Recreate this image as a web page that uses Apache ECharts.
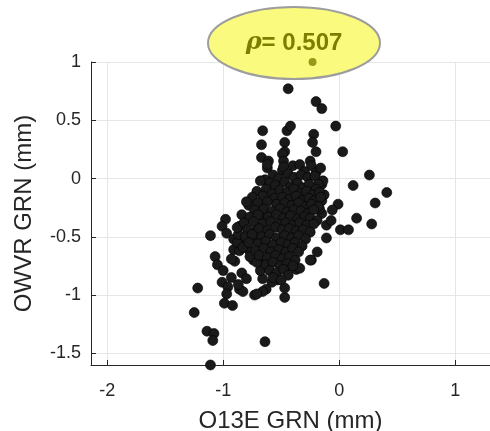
<!DOCTYPE html>
<html>
<head>
<meta charset="utf-8">
<script src="https://cdn.jsdelivr.net/npm/echarts@6/dist/echarts.min.js"></script>
<style>
html, body { margin: 0; padding: 0; background: #fff; }
#main { width: 490px; height: 431px; }
</style>
</head>
<body>
<div id="main"></div>
<script>
// points, [O13E, OWVR] in mm
var upperTail = [
    [-0.44,0.77],[-0.20,0.66],[-0.15,0.60],[-0.03,0.45],[-0.66,0.41],[-0.45,0.41],
    [-0.42,0.45],[-0.22,0.38],[-0.67,0.29],[-0.47,0.31],[-0.23,0.31],[-0.20,0.23],
    [0.03,0.23],[-0.47,0.23],[-0.49,0.21],[-0.67,0.18],[-0.61,0.15],[-0.48,0.15],
    [-0.25,0.15],[-0.62,0.09],[-0.49,0.07],[-0.40,0.11],[-0.34,0.12],[-0.24,0.11],
    [-0.20,0.05],[-0.16,0.09],[-0.30,0.06],[-0.48,0.10],[-0.62,0.12]
];
var rightSpread = [
    [0.26,0.03],[0.12,-0.06],[0.41,-0.12],[0.31,-0.21],[0.15,-0.34],[0.28,-0.39],
    [-0.01,-0.22],[-0.06,-0.27],[-0.15,-0.30],[-0.11,-0.40],[-0.07,-0.36],[0.01,-0.44],
    [0.08,-0.44],[-0.11,-0.51],[-0.19,-0.63],[-0.24,-0.70],[-0.13,-0.90],[-0.15,-0.05],
    [-0.14,-0.02],[-0.15,-0.19],[-0.13,-0.14],[-0.17,-0.26]
];
var lowerTail = [
    [-0.98,-0.35],[-1.01,-0.41],[-1.11,-0.49],[-1.07,-0.67],[-1.05,-0.74],[-1.00,-0.79],
    [-1.22,-0.94],[-1.01,-0.89],[-0.93,-0.85],[-0.84,-0.81],[-0.96,-0.93],[-0.97,-0.99],
    [-0.99,-1.07],[-0.92,-1.09],[-1.25,-1.15],[-1.14,-1.31],[-1.08,-1.33],[-1.09,-1.39],
    [-0.64,-1.40],[-1.11,-1.60],[-0.73,-1.00],[-0.63,-0.95],[-0.86,-0.95],[-0.83,-0.97],
    [-0.47,-1.02],[-0.47,-0.94],[-0.53,-0.87],[-0.58,-0.89],[-0.66,-0.97],[-0.91,-0.61],
    [-0.84,-0.55],[-0.78,-0.61],[-0.74,-0.70],[-0.67,-0.71],[-0.97,-0.47],[-0.91,-0.52],
    [-0.86,-0.41],[-0.84,-0.31],[-0.78,-0.23],[-0.68,-0.32],[-0.37,-0.78],[-0.34,-0.77],
    [-0.43,-0.75],[-0.25,-0.70],[-0.66,-0.86],[-0.68,-0.79],[-0.80,-0.86],[-0.87,-0.91],
    [-0.71,-0.99],[-0.90,-0.71],[-0.93,-0.69],[-0.86,-0.62],[-0.88,-0.55],[-0.83,-0.59],
    [-0.77,-0.67],[-0.71,-0.72],[-0.87,-0.48],[-0.88,-0.42],[-0.78,-0.49],[-0.73,-0.51],
    [-0.71,-0.44]
];
var core = [
    [-0.57,0.03],[-0.52,0.00],[-0.44,0.04],[-0.39,0.01],[-0.33,0.03],[-0.27,0.01],[-0.21,0.02],[-0.18,-0.05],
    [-0.64,-0.01],[-0.68,-0.02],[-0.60,-0.04],[-0.55,-0.06],[-0.47,-0.03],[-0.42,-0.07],[-0.36,-0.04],[-0.31,-0.08],[-0.26,-0.05],[-0.20,-0.09],
    [-0.71,-0.11],[-0.63,-0.09],[-0.58,-0.13],[-0.51,-0.10],[-0.45,-0.12],[-0.39,-0.09],[-0.34,-0.13],[-0.28,-0.11],[-0.23,-0.14],[-0.17,-0.12],
    [-0.75,-0.16],[-0.66,-0.15],[-0.56,-0.17],[-0.49,-0.16],[-0.43,-0.18],[-0.37,-0.15],[-0.32,-0.19],[-0.26,-0.17],[-0.21,-0.19],[-0.16,-0.16],
    [-0.80,-0.20],[-0.70,-0.21],[-0.62,-0.20],[-0.54,-0.22],[-0.47,-0.21],[-0.41,-0.23],[-0.35,-0.21],[-0.29,-0.24],[-0.24,-0.22],[-0.18,-0.24],
    [-0.73,-0.27],[-0.65,-0.26],[-0.58,-0.28],[-0.51,-0.26],[-0.45,-0.29],[-0.39,-0.27],[-0.33,-0.28],[-0.27,-0.30],[-0.22,-0.27],
    [-0.77,-0.33],[-0.70,-0.31],[-0.61,-0.33],[-0.54,-0.31],[-0.48,-0.34],[-0.42,-0.32],[-0.36,-0.35],[-0.30,-0.33],[-0.25,-0.34],[-0.19,-0.36],
    [-0.82,-0.38],[-0.74,-0.37],[-0.66,-0.39],[-0.59,-0.37],[-0.52,-0.39],[-0.46,-0.38],[-0.40,-0.40],[-0.34,-0.38],[-0.28,-0.40],[-0.22,-0.39],
    [-0.79,-0.44],[-0.69,-0.43],[-0.62,-0.45],[-0.55,-0.42],[-0.49,-0.44],[-0.43,-0.43],[-0.37,-0.45],[-0.31,-0.44],[-0.25,-0.46],
    [-0.81,-0.50],[-0.75,-0.48],[-0.67,-0.50],[-0.60,-0.48],[-0.54,-0.51],[-0.47,-0.49],[-0.41,-0.51],[-0.35,-0.49],[-0.29,-0.52],
    [-0.78,-0.55],[-0.70,-0.56],[-0.63,-0.54],[-0.57,-0.57],[-0.50,-0.55],[-0.44,-0.57],[-0.38,-0.55],[-0.32,-0.58],
    [-0.72,-0.62],[-0.65,-0.60],[-0.59,-0.63],[-0.52,-0.61],[-0.46,-0.63],[-0.40,-0.60],[-0.35,-0.63],
    [-0.69,-0.66],[-0.62,-0.68],[-0.55,-0.66],[-0.49,-0.69],[-0.43,-0.67],[-0.38,-0.70],
    [-0.63,-0.74],[-0.57,-0.72],[-0.51,-0.75],[-0.45,-0.73],[-0.40,-0.75],
    [-0.60,-0.79],[-0.54,-0.81],[-0.48,-0.78],[-0.44,-0.83],[-0.57,-0.85],[-0.50,-0.87]
];
var rhoPoint = [[-0.23, 1.0]];
var rhoValue = '0.507';
var xTicks = [-2, -1, 0, 1];
var yTicks = [-1.5, -1, -0.5, 0, 0.5, 1];

var myChart = echarts.init(document.getElementById('main'));

var allPts = upperTail.concat(rightSpread, lowerTail, core);
var txtColor = '#262626';
var fontName = 'Liberation Sans';

var option = {
    animation: false,
    grid: { left: 91, right: 0, top: 62, bottom: 66, outerBoundsMode: 'none', containLabel: false },
    xAxis: {
        type: 'value',
        min: -2.14,
        max: 1.3,
        name: 'O13E GRN (mm)',
        nameLocation: 'middle',
        nameGap: 44,
        nameTextStyle: { color: txtColor, fontSize: 24, fontFamily: fontName },
        axisLine: { show: true, onZero: false, lineStyle: { color: txtColor, width: 1 } },
        axisTick: { show: true, inside: true, length: 5, customValues: xTicks, lineStyle: { color: txtColor } },
        axisLabel: { customValues: xTicks, color: txtColor, fontSize: 18, fontFamily: fontName, margin: 17,
            formatter: function (v) { return String(v); } },
        splitLine: { show: true, lineStyle: { color: '#e6e6e6', width: 1 } }
    },
    yAxis: {
        type: 'value',
        min: -1.6,
        max: 1,
        name: 'OWVR GRN (mm)',
        nameLocation: 'middle',
        nameGap: 55,
        nameTextStyle: { color: txtColor, fontSize: 24, fontFamily: fontName },
        axisLine: { show: true, onZero: false, lineStyle: { color: txtColor, width: 1 } },
        axisTick: { show: true, inside: true, length: 5, customValues: yTicks, lineStyle: { color: txtColor } },
        axisLabel: { customValues: yTicks, color: txtColor, fontSize: 18, fontFamily: fontName, margin: 10,
            formatter: function (v) { return String(v); } },
        splitLine: { show: true, lineStyle: { color: '#e6e6e6', width: 1 } }
    },
    graphic: [{
        type: 'ellipse',
        z: 50,
        shape: { cx: 294, cy: 43, rx: 86, ry: 36 },
        style: { fill: '#fafa7e', stroke: '#9d9d9d', lineWidth: 2 }
    }, {
        type: 'text',
        z: 51,
        x: 294,
        y: 43,
        style: {
            text: '{r|ρ}{v|= ' + rhoValue + '}',
            rich: {
                r: { fill: '#7d7d00', font: 'italic bold 24px "DejaVu Serif"' },
                v: { fill: '#7d7d00', font: 'bold 24px "Liberation Sans"' }
            },
            align: 'center',
            verticalAlign: 'middle'
        }
    }],
    series: [{
        type: 'scatter',
        data: allPts,
        symbolSize: 10,
        itemStyle: { color: '#1a1a1a', borderColor: '#000', borderWidth: 0.6, opacity: 1 }
    }, {
        type: 'scatter',
        data: rhoPoint,
        z: 60,
        zlevel: 1,
        symbolSize: 8,
        itemStyle: { color: '#808000' }
    }]
};

myChart.setOption(option);
</script>
</body>
</html>
